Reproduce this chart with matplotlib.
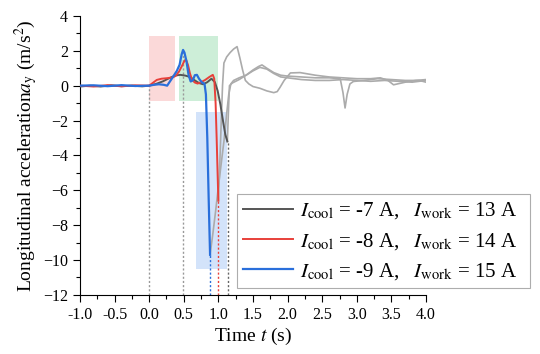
import matplotlib
matplotlib.use("Agg")
import matplotlib.pyplot as plt

# -------------------------------
# data
# -------------------------------
# I_cool = -7 A, I_work = 13 A (dark grey, up to its minimum)
t_dark = [-1.0, -0.85, -0.7, -0.55, -0.4, -0.25, -0.1, 0.0, 0.1, 0.2, 0.3, 0.38, 0.45,
          0.52, 0.59, 0.66, 0.72, 0.78, 0.84, 0.9, 0.95, 0.99, 1.03, 1.07, 1.1, 1.13]
a_dark = [-0.05, 0.0, -0.05, 0.02, -0.03, 0.0, -0.04, 0.0, 0.1, 0.25, 0.45, 0.58, 0.62,
          0.58, 0.5, 0.3, 0.15, 0.08, 0.2, 0.4, 0.2, -0.3, -1.1, -2.1, -2.8, -3.2]

# I_cool = -8 A, I_work = 14 A (red)
t_red = [-1.0, -0.8, -0.6, -0.4, -0.2, 0.0, 0.05, 0.11, 0.18, 0.26, 0.33, 0.38, 0.43, 0.47,
         0.5, 0.53, 0.56, 0.59, 0.62, 0.66, 0.7, 0.75, 0.81, 0.87, 0.92, 0.94, 0.96, 0.975,
         0.99, 1.0]
a_red = [0.0, -0.05, 0.03, -0.04, 0.02, 0.0, 0.15, 0.33, 0.4, 0.43, 0.46, 0.55, 0.8, 1.1,
         1.35, 1.52, 1.2, 0.7, 0.33, 0.18, 0.12, 0.2, 0.33, 0.5, 0.62, 0.4, -1.0, -3.0,
         -5.2, -6.6]

# I_cool = -9 A, I_work = 15 A (blue)
t_blue = [-1.0, -0.8, -0.6, -0.4, -0.2, 0.0, 0.07, 0.14, 0.21, 0.26, 0.31, 0.36, 0.4, 0.44,
          0.47, 0.49, 0.51, 0.54, 0.57, 0.6, 0.63, 0.66, 0.69, 0.72, 0.76, 0.8, 0.82, 0.84,
          0.86, 0.88]
a_blue = [0.0, 0.02, -0.03, 0.03, -0.02, 0.0, 0.05, 0.08, 0.05, 0.0, 0.3, 0.6, 0.85, 1.2,
          1.8, 2.05, 1.9, 1.38, 0.6, 0.24, 0.3, 0.6, 0.62, 0.4, 0.2, 0.1, -0.5, -3.0,
          -6.5, -9.7]

# light grey continuations after each minimum
t_blue_after = [0.88, 0.92, 0.96, 1.0, 1.04, 1.08, 1.12, 1.15, 1.18, 1.22, 1.3, 1.4, 1.5,
                1.6, 1.7, 1.8, 1.9, 2.0, 2.2, 2.4, 2.6, 2.8, 3.0, 3.2, 3.4, 3.6, 3.8, 4.0]
a_blue_after = [-9.7, -8.5, -7.2, -5.8, -4.5, -3.2, -1.6, -0.5, 0.1, 0.3, 0.45, 0.6, 0.85,
                1.05, 0.95, 0.7, 0.5, 0.45, 0.35, 0.3, 0.3, 0.35, 0.3, 0.25, 0.3, 0.25,
                0.2, 0.3]

t_red_after = [1.0, 1.02, 1.04, 1.06, 1.08, 1.12, 1.17, 1.22, 1.27, 1.31, 1.35, 1.39, 1.44,
               1.5, 1.6, 1.7, 1.8, 1.85, 1.89, 1.95, 2.04, 2.18, 2.4, 2.6, 2.8, 3.0, 3.2,
               3.34, 3.45, 3.53, 3.7, 3.85, 4.0]
a_red_after = [-6.6, -4.5, -2.2, 0.0, 1.3, 1.65, 1.9, 2.1, 2.24, 1.6, 0.9, 0.3, 0.1, -0.05,
               -0.15, -0.3, -0.4, -0.34, -0.1, 0.3, 0.73, 0.75, 0.6, 0.5, 0.45, 0.4, 0.4,
               0.45, 0.3, 0.05, 0.2, 0.3, 0.35]

t_dark_after = [1.13, 1.145, 1.16, 1.2, 1.3, 1.4, 1.5, 1.58, 1.63, 1.7, 1.8, 1.9, 2.0, 2.2,
                2.4, 2.6, 2.76, 2.8, 2.83, 2.86, 2.9, 2.95, 3.1, 3.3, 3.5, 3.7, 3.9, 4.0]
a_dark_after = [-3.2, -1.5, 0.0, 0.15, 0.35, 0.6, 0.9, 1.1, 1.19, 1.0, 0.75, 0.6, 0.55, 0.5,
                0.45, 0.45, 0.4, -0.4, -1.28, -0.5, 0.1, 0.24, 0.3, 0.4, 0.35, 0.3, 0.3, 0.2]

# shaded phases: (t0, t1, a0, a1)
spans = [(0.0, 0.38, -0.9, 2.85), (0.43, 0.99, -0.9, 2.85), (0.68, 1.12, -10.5, -1.5)]
span_colors = ["#fbd9d9", "#cdeed8", "#d3e3fa"]

# dotted markers: time, top value
mark_t = [0.0, 0.49, 0.88, 1.0, 1.14]
mark_top = [0.0, 2.0, -9.7, -6.6, -3.2]
mark_colors = ["#999999", "#999999", "#2a6fdb", "#e8403a", "#666666"]

labels = ["$I_{\\mathrm{cool}}$ = -7 A,   $I_{\\mathrm{work}}$ = 13 A",
          "$I_{\\mathrm{cool}}$ = -8 A,   $I_{\\mathrm{work}}$ = 14 A",
          "$I_{\\mathrm{cool}}$ = -9 A,   $I_{\\mathrm{work}}$ = 15 A"]

# -------------------------------
# style
# -------------------------------
plt.rcParams["font.family"] = ["Liberation Serif", "DejaVu Sans"]
plt.rcParams["mathtext.fontset"] = "stix"

fig = plt.figure(figsize=(5.4, 3.54), dpi=100)
ax = fig.add_axes([0.148, 0.167, 0.641, 0.788])

for (x0, x1, y0, y1), c in zip(spans, span_colors):
    ax.fill_between([x0, x1], y0, y1, color=c, lw=0, zorder=0)

for t, top, c in zip(mark_t, mark_top, mark_colors):
    ax.plot([t, t], [-12, top], ls=(0, (1.5, 1.5)), color=c, lw=1.0, zorder=1)

grey = "#ababab"
ax.plot(t_blue_after, a_blue_after, color=grey, lw=1.2, zorder=2)
ax.plot(t_red_after, a_red_after, color=grey, lw=1.2, zorder=2)
ax.plot(t_dark_after, a_dark_after, color=grey, lw=1.2, zorder=2)

l1, = ax.plot(t_dark, a_dark, color="#555555", lw=1.4, zorder=3)
l2, = ax.plot(t_red, a_red, color="#e8403a", lw=1.4, zorder=4)
l3, = ax.plot(t_blue, a_blue, color="#2a6fdb", lw=1.6, zorder=5)

ax.set_xlim(-1.0, 4.0)
ax.set_ylim(-12, 4)
ax.set_xticks([-1.0 + 0.5 * i for i in range(11)])
ax.set_xticks([-1.0 + 0.25 * i for i in range(21)], minor=True)
ax.set_yticks(range(-12, 5, 2))
ax.set_yticks(range(-12, 5, 1), minor=True)
ax.set_xticklabels([f"{-1.0 + 0.5 * i:.1f}" for i in range(11)])
ax.tick_params(which="both", direction="out", labelsize=11.5, width=0.8)
ax.tick_params(which="major", length=5)
ax.tick_params(which="minor", length=3)
ax.spines["top"].set_visible(False)
ax.spines["right"].set_visible(False)

ax.set_xlabel("Time $\\it{t}$ (s)", fontsize=14, labelpad=2)
ax.set_ylabel("Longitudinal acceleration$\\it{a}_{\\mathrm{y}}$ (m/s$^2$)", fontsize=14, labelpad=2)

leg = fig.legend([l1, l2, l3], labels, loc="lower left",
                 bbox_to_anchor=(0.439, 0.186, 0.542, 0.263), bbox_transform=fig.transFigure,
                 mode="expand", fontsize=15, frameon=True, fancybox=False,
                 handlelength=2.4, handletextpad=0.3, labelspacing=0.45, borderpad=0.3,
                 borderaxespad=0)
leg.get_frame().set_edgecolor("#999999")
leg.get_frame().set_linewidth(0.8)

fig.savefig("out.png", dpi=100)
